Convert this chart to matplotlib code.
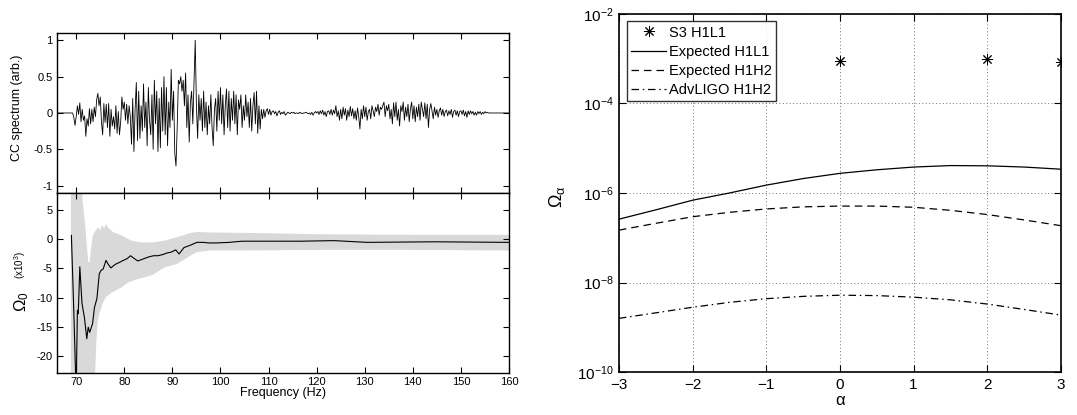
import numpy as np
import matplotlib
matplotlib.use("Agg")
import matplotlib.pyplot as plt
from matplotlib.ticker import NullLocator

plt.rcParams["font.family"] = ["Liberation Sans", "DejaVu Sans"]
plt.rcParams["mathtext.fontset"] = "custom"
plt.rcParams["mathtext.rm"] = "Liberation Sans"
plt.rcParams["mathtext.it"] = "Liberation Sans:italic"
plt.rcParams["axes.unicode_minus"] = False

# --- left top: cross-correlation spectrum, 0.25 Hz bins from 69.25 to 155.75 Hz
cc_spectrum = [
    0.00, -0.06, -0.17,
    -0.05, 0.10, -0.02, 0.14,    # 70
    -0.12, 0.05, -0.10, -0.04,   # 71
    -0.32, -0.08, -0.18, 0.06,   # 72
    -0.15, 0.05, -0.12, 0.08,    # 73
    -0.05, 0.18, 0.27, 0.10,     # 74
    0.22, -0.12, -0.30, 0.13,    # 75
    -0.13, 0.12, -0.20, 0.13,    # 76
    -0.32, 0.05, -0.18, -0.05,   # 77
    -0.22, 0.10, -0.28, 0.02,    # 78
    -0.30, -0.12, 0.22, 0.05,    # 79
    0.15, -0.10, 0.12, -0.15,    # 80
    0.10, -0.05, -0.43, 0.20,    # 81
    -0.53, 0.05, 0.42, -0.38,    # 82
    0.30, -0.35, 0.10, -0.25,    # 83
    0.40, -0.20, 0.15, -0.45,    # 84
    0.35, -0.10, -0.30, 0.25,    # 85
    -0.50, 0.45, -0.15, 0.30,    # 86
    -0.53, 0.20, -0.48, 0.35,    # 87
    -0.25, 0.50, -0.30, 0.35,    # 88
    -0.45, 0.15, -0.20, 0.60,    # 89
    -0.10, 0.30, -0.55, -0.73,   # 90
    -0.20, 0.45, 0.40, 0.50,     # 91
    0.30, 0.45, 0.10, 0.55,      # 92
    -0.20, 0.25, -0.40, 0.15,    # 93
    0.30, -0.15, 0.40, 1.00,     # 94
    0.10, -0.35, 0.25, -0.10,    # 95
    0.20, -0.25, 0.30, -0.20,    # 96
    0.15, -0.30, 0.10, -0.15,    # 97
    0.25, -0.20, -0.45, 0.05,    # 98
    0.20, -0.25, 0.30, -0.10,    # 99
    0.35, -0.15, 0.25, -0.30,    # 100
    0.10, 0.33, -0.20, 0.30,     # 101
    -0.25, 0.20, -0.10, 0.30,    # 102
    -0.15, 0.25, -0.30, 0.18,    # 103
    0.05, 0.25, -0.20, 0.10,     # 104
    -0.10, 0.25, -0.05, 0.15,    # 105
    -0.20, 0.20, -0.25, 0.10,    # 106
    0.28, -0.15, 0.30, -0.28,    # 107
    0.10, -0.22, 0.05, -0.08,    # 108
    0.05, -0.06, 0.03, 0.06,     # 109
    -0.02, 0.05, -0.03, 0.02,    # 110
    0.03, -0.01, 0.02, -0.04,    # 111
    0.01, 0.03, -0.02, 0.01,     # 112
    -0.01, 0.02, -0.03, -0.01,   # 113
    0.01, 0.00, -0.01, 0.01,     # 114
    0.00, 0.01, -0.01, 0.00,     # 115
    0.00, -0.01, 0.01, 0.00,     # 116
    -0.01, 0.00, 0.00, 0.01,     # 117
    0.00, -0.01, 0.00, -0.02,    # 118
    0.01, -0.03, 0.00, 0.02,     # 119
    0.00, 0.02, -0.02, 0.03,     # 120
    -0.01, 0.04, -0.03, 0.02,    # 121
    -0.05, 0.02, 0.03, -0.02,    # 122
    0.05, -0.03, 0.04, -0.01,    # 123
    0.10, -0.05, 0.03, -0.10,    # 124
    0.05, -0.08, 0.08, -0.03,    # 125
    0.06, -0.10, 0.04, -0.05,    # 126
    0.09, -0.04, 0.06, -0.08,    # 127
    0.03, -0.10, 0.07, -0.05,    # 128
    -0.22, 0.05, -0.08, 0.10,    # 129
    -0.05, 0.08, -0.10, 0.02,    # 130
    0.05, -0.08, 0.10, 0.03,     # 131
    -0.05, 0.08, 0.02, 0.12,     # 132
    -0.03, 0.08, 0.05, 0.10,     # 133
    0.15, -0.05, 0.10, 0.03,     # 134
    0.12, -0.08, 0.05, -0.15,    # 135
    0.14, -0.05, 0.15, -0.10,    # 136
    0.05, -0.18, 0.10, 0.02,     # 137
    0.15, -0.10, 0.08, -0.05,    # 138
    0.12, -0.12, 0.05, 0.15,     # 139
    -0.08, 0.10, -0.12, 0.08,    # 140
    -0.05, 0.12, -0.10, 0.15,    # 141
    0.05, -0.05, 0.14, -0.08,    # 142
    0.12, -0.20, 0.05, 0.13,     # 143
    0.02, -0.08, 0.08, -0.03,    # 144
    0.05, -0.06, 0.03, 0.07,     # 145
    -0.03, 0.05, -0.05, 0.02,    # 146
    0.04, -0.04, 0.03, -0.02,    # 147
    0.05, -0.06, 0.02, 0.04,     # 148
    -0.03, 0.03, -0.05, 0.02,    # 149
    0.03, -0.02, 0.04, -0.04,    # 150
    0.02, -0.06, 0.03, -0.02,    # 151
    0.03, -0.01, 0.02, -0.03,    # 152
    0.01, -0.03, 0.02, -0.01,    # 153
    0.02, -0.02, 0.01, -0.01,    # 154
    0.02, 0.00, 0.01, 0.00,      # 155
]
cc_freq = np.concatenate([[66.0], np.arange(69.25, 156.0, 0.25), [160.0]])
cc_values = np.array([0.0] + cc_spectrum + [0.0])

cc_yticks = [-1, -0.5, 0, 0.5, 1]
cc_yticklabels = ["-1", "-0.5", "0", "0.5", "1"]

# --- left bottom: running Omega_0 estimate (x 10^3) and its error band
om_freq = [69.0, 69.45, 69.9, 70.0, 70.1, 70.25, 70.4, 70.5, 70.75, 71.2, 71.7,
           72.2, 72.5, 72.8, 73.4, 73.8, 74.3, 74.8, 75.2, 75.6, 76.2, 76.6,
           77.2, 78.1, 79.1, 79.8, 80.6, 81.3, 82.1, 82.8, 83.5, 84.1, 85.1,
           86.1, 87.0, 88.0, 89.0, 89.7, 90.7, 91.4, 92.4, 93.7, 95.1, 96.4,
           97.5, 99.1, 101.8, 104.5, 108.6, 116.6, 123.6, 130.5, 144.4, 160.0]
om_mean = [0.7, -11.0, -24.0, -28.0, -20.0, -12.2, -12.8, -11.0, -4.7, -11.0, -13.4,
           -17.1, -15.1, -16.0, -14.5, -11.7, -10.2, -5.9, -5.3, -5.1, -3.6, -4.2,
           -4.9, -4.3, -3.9, -3.6, -3.3, -2.8, -3.3, -3.7, -3.5, -3.3, -3.0,
           -2.8, -2.8, -2.6, -2.3, -2.2, -1.8, -2.5, -1.4, -1.0, -0.5, -0.5,
           -0.6, -0.6, -0.5, -0.3, -0.3, -0.3, -0.2, -0.5, -0.4, -0.5]

up_freq = [68.9, 71.0, 71.4, 71.85, 72.2, 72.5, 72.8, 73.1, 73.4, 74.0, 74.5, 75.0,
           75.4, 75.8, 76.2, 76.6, 77.0, 77.6, 78.5, 79.5, 80.5, 81.5, 83.5, 86.0,
           88.4, 91.0, 93.7, 95.1, 98.0, 108.0, 120.0, 140.0, 160.0]
up_val = [10.0, 10.0, 6.0, 2.7, -1.0, -3.9, -3.9, -1.5, 0.5, 1.5, 2.1, 1.6,
          2.5, 1.9, 2.7, 2.0, 1.8, 1.3, 1.0, 0.7, 0.2, -0.2, -0.5, -0.5,
          -0.2, 0.4, 1.1, 1.3, 1.2, 1.1, 0.9, 0.8, 0.8]
lo_freq = [68.9, 73.6, 74.2, 74.5, 74.8, 75.5, 76.2, 77.5, 78.2, 79.5, 80.8, 82.8,
           84.8, 86.1, 88.4, 91.0, 92.4, 93.7, 95.1, 97.8, 104.5, 120.0, 140.0, 160.0]
lo_val = [-30.0, -30.0, -17.4, -14.0, -12.8, -11.0, -9.9, -9.1, -8.8, -8.2, -7.4, -6.8,
          -6.4, -6.0, -4.8, -4.2, -3.5, -2.8, -2.2, -1.9, -1.9, -1.8, -1.8, -1.9]

freq_ticks = [70, 80, 90, 100, 110, 120, 130, 140, 150, 160]
om_yticks = [-20, -15, -10, -5, 0, 5]

# --- right: Omega_alpha limits vs spectral index
alpha = [-3, -2.5, -2, -1.5, -1, -0.5, 0, 0.5, 1, 1.5, 2, 2.5, 3]
expected_h1l1 = [2.6e-7, 4.2e-7, 6.9e-7, 1.0e-6, 1.5e-6, 2.1e-6, 2.75e-6,
                 3.3e-6, 3.8e-6, 4.1e-6, 4.05e-6, 3.8e-6, 3.4e-6]
expected_h1h2 = [1.48e-7, 2.1e-7, 2.95e-7, 3.7e-7, 4.4e-7, 4.9e-7, 5.1e-7,
                 5.1e-7, 4.8e-7, 4.1e-7, 3.3e-7, 2.5e-7, 1.86e-7]
advligo_h1h2 = [1.58e-9, 2.1e-9, 2.8e-9, 3.6e-9, 4.35e-9, 4.9e-9, 5.2e-9,
                5.1e-9, 4.7e-9, 4.1e-9, 3.3e-9, 2.5e-9, 1.87e-9]
s3_alpha = [0, 2, 3]
s3_h1l1 = [8.9e-4, 9.7e-4, 8.5e-4]

alpha_ticks = [-3, -2, -1, 0, 1, 2, 3]
alpha_ticklabels = ["\u22123", "\u22122", "\u22121", "0", "1", "2", "3"]
omega_ticks = [1e-10, 1e-8, 1e-6, 1e-4, 1e-2]

fig = plt.figure(figsize=(10.77, 4.15), dpi=100)
ax_cc = fig.add_axes([0.0529, 0.535, 0.4197, 0.3855])
ax_om = fig.add_axes([0.0529, 0.1012, 0.4197, 0.4337])
ax_r = fig.add_axes([0.5747, 0.1036, 0.4104, 0.8627])

# top left
ax_cc.plot(cc_freq, cc_values, color="black", linewidth=0.6)
ax_cc.set_xlim(66, 160)
ax_cc.set_ylim(-1.1, 1.1)
ax_cc.set_xticks(freq_ticks)
ax_cc.set_xticklabels([])
ax_cc.set_yticks(cc_yticks)
ax_cc.set_yticklabels(cc_yticklabels)

# bottom left
band_x = np.concatenate([up_freq, lo_freq[::-1]])
band_y = np.concatenate([up_val, lo_val[::-1]])
ax_om.fill(band_x, band_y, color="#d9d9d9", linewidth=0)
ax_om.plot(om_freq, om_mean, color="black", linewidth=0.8)
ax_om.set_xlim(66, 160)
ax_om.set_ylim(-23, 8)
ax_om.set_xticks(freq_ticks)
ax_om.set_yticks(om_yticks)

for ax in (ax_cc, ax_om):
    ax.tick_params(direction="in", top=True, right=True, length=4, width=0.8,
                   labelsize=8, pad=3)
    for sp in ax.spines.values():
        sp.set_linewidth(1.0)

fig.text(0.016, 0.74, "CC spectrum (arb.)", rotation=90, ha="center", va="center",
         fontsize=9)
fig.text(0.020, 0.272, r"$\Omega_0$", rotation=90, ha="center", va="center",
         fontsize=12)
fig.text(0.019, 0.362, r"(x10$^3$)", rotation=90, ha="center", va="center",
         fontsize=7)
fig.text(0.263, 0.053, "Frequency (Hz)", ha="center", va="center", fontsize=9)

# right
ax_r.plot(s3_alpha, s3_h1l1, linestyle="none", marker=(8, 2, 0), markersize=8,
          color="black", markeredgewidth=0.7, label="S3 H1L1")
ax_r.plot(alpha, expected_h1l1, color="black", linewidth=0.9, label="Expected H1L1")
ax_r.plot(alpha, expected_h1h2, color="black", linewidth=0.9, linestyle=(0, (6, 4)),
          label="Expected H1H2")
ax_r.plot(alpha, advligo_h1h2, color="black", linewidth=0.9,
          linestyle=(0, (6, 3, 1.2, 3)), label="AdvLIGO H1H2")
ax_r.set_yscale("log")
ax_r.set_xlim(-3, 3)
ax_r.set_ylim(1e-10, 1e-2)
ax_r.set_xticks(alpha_ticks)
ax_r.set_xticklabels(alpha_ticklabels)
ax_r.set_yticks(omega_ticks)
ax_r.yaxis.set_minor_locator(NullLocator())
ax_r.grid(True, linestyle=(0, (1, 2.5)), color="0.45", linewidth=0.7)
ax_r.tick_params(direction="in", top=True, right=True, length=5, width=0.8,
                 labelsize=11, pad=4)
for sp in ax_r.spines.values():
    sp.set_linewidth(1.2)

leg = ax_r.legend(loc="upper left", bbox_to_anchor=(0.018, 0.98), fontsize=10.5,
                  frameon=True, fancybox=False, handlelength=2.4, handletextpad=0.2,
                  labelspacing=0.35, borderpad=0.3, borderaxespad=0.0)
leg.get_frame().set_edgecolor("black")
leg.get_frame().set_linewidth(1.0)

fig.text(0.517, 0.525, r"$\Omega_\mathrm{\alpha}$", rotation=90, ha="center",
         va="center", fontsize=13)
fig.text(0.780, 0.036, "\u03b1", ha="center", va="center", fontsize=12)

fig.savefig("out.png", dpi=100)
